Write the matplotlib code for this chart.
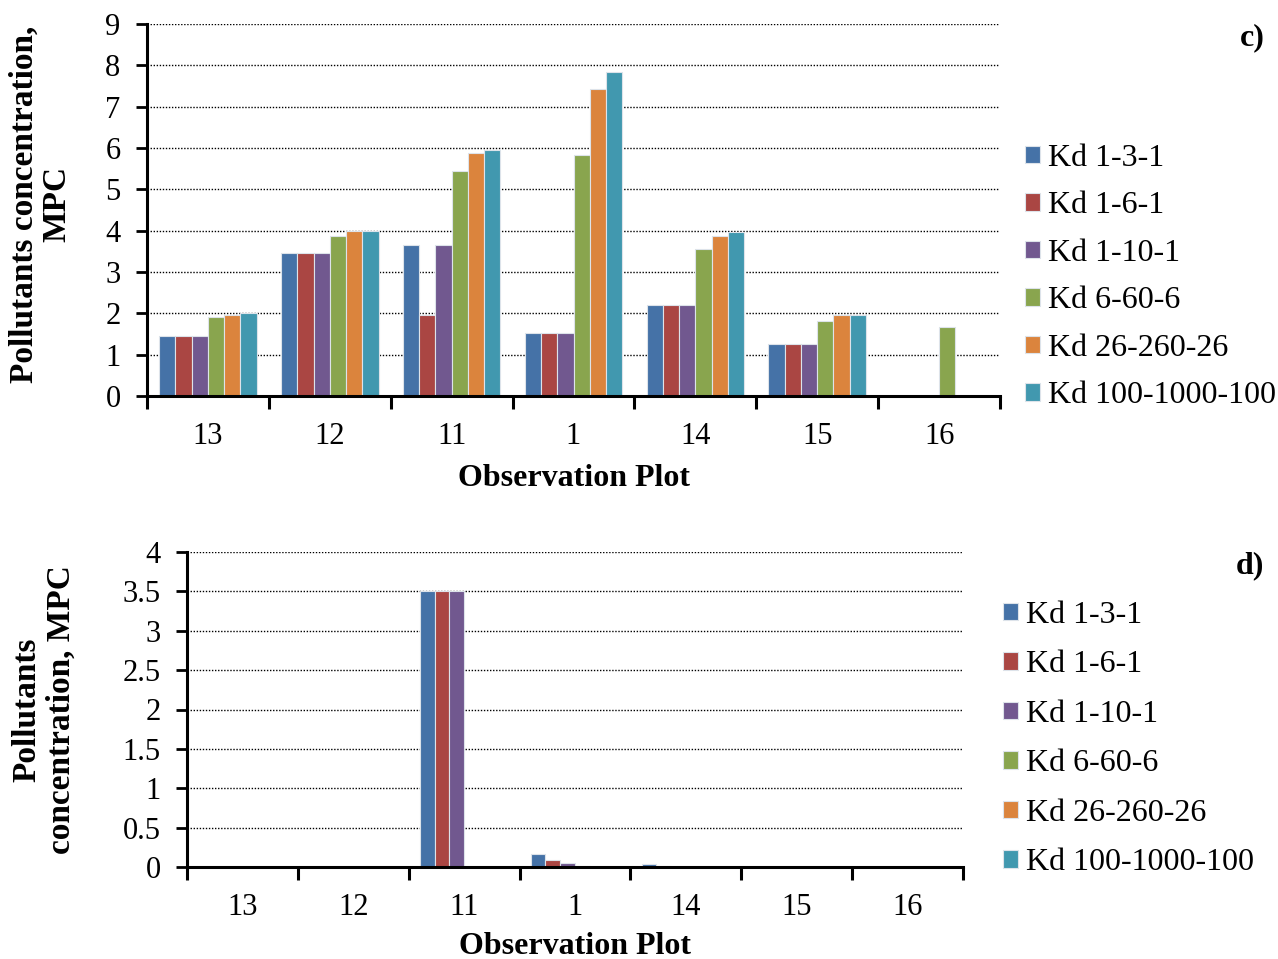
import numpy as np
import matplotlib
matplotlib.use("Agg")
import matplotlib.pyplot as plt
from matplotlib.ticker import FormatStrFormatter, FixedLocator

plt.rcParams['font.family'] = ['Liberation Serif', 'DejaVu Serif']

plots = ['13', '12', '11', '1', '14', '15', '16']
series = ['Kd 1-3-1', 'Kd 1-6-1', 'Kd 1-10-1', 'Kd 6-60-6', 'Kd 26-260-26', 'Kd 100-1000-100']
colors = ['#4572A7', '#AA4643', '#71588F', '#89A54E', '#DB843D', '#4198AF']

# panel c) concentration per plot, one list per Kd set
c_kd_1_3_1 = [1.46, 3.47, 3.65, 1.52, 2.21, 1.26, 0.0]
c_kd_1_6_1 = [1.46, 3.47, 1.95, 1.52, 2.21, 1.26, 0.0]
c_kd_1_10_1 = [1.46, 3.47, 3.65, 1.52, 2.21, 1.26, 0.0]
c_kd_6_60_6 = [1.92, 3.87, 5.44, 5.83, 3.55, 1.82, 1.66]
c_kd_26_260_26 = [1.97, 3.98, 5.87, 7.43, 3.88, 1.95, 0.0]
c_kd_100_1000_100 = [2.0, 3.98, 5.96, 7.84, 3.96, 1.96, 0.0]

# panel d)
d_kd_1_3_1 = [0.0, 0.0, 3.5, 0.17, 0.04, 0.0, 0.0]
d_kd_1_6_1 = [0.0, 0.0, 3.5, 0.095, 0.01, 0.0, 0.0]
d_kd_1_10_1 = [0.0, 0.0, 3.5, 0.05, 0.0, 0.0, 0.0]
d_kd_6_60_6 = [0.0, 0.0, 0.0, 0.01, 0.0, 0.0, 0.0]
d_kd_26_260_26 = [0.0, 0.0, 0.0, 0.0, 0.0, 0.0, 0.0]
d_kd_100_1000_100 = [0.0, 0.0, 0.0, 0.0, 0.0, 0.0, 0.0]

c_data = [c_kd_1_3_1, c_kd_1_6_1, c_kd_1_10_1, c_kd_6_60_6, c_kd_26_260_26, c_kd_100_1000_100]
d_data = [d_kd_1_3_1, d_kd_1_6_1, d_kd_1_10_1, d_kd_6_60_6, d_kd_26_260_26, d_kd_100_1000_100]

TICK_FS = 22
LABEL_FS = 23

fig = plt.figure(figsize=(12.78, 9.59), dpi=100)
ax_c = fig.add_axes([147/1278, 1 - 396/959, 853/1278, 372/959])
ax_d = fig.add_axes([187/1278, 1 - 867/959, 776/1278, 315/959])


def draw_panel(ax, data, ymax, ystep, xlabelpad):
    x = np.arange(len(plots))
    w = 0.8 / len(series)
    for i, vals in enumerate(data):
        ax.bar(x - 0.4 + w * (i + 0.5), vals, width=w, color=colors[i],
               edgecolor='#dde3ea', linewidth=0.8, label=series[i], zorder=2)
    ax.set_xlim(-0.5, len(plots) - 0.5)
    ax.set_ylim(0, ymax)
    ax.set_yticks(np.arange(0, ymax + ystep / 2, ystep))
    ax.yaxis.set_major_formatter(FormatStrFormatter('%g'))
    # ticks sit on group boundaries, labels at group centres
    ax.xaxis.set_major_locator(FixedLocator(np.arange(len(plots) + 1) - 0.5))
    ax.xaxis.set_minor_locator(FixedLocator(x))
    ax.set_xticklabels([], minor=False)
    ax.set_xticklabels(plots, minor=True)
    ax.tick_params(axis='x', which='major', direction='out', length=9, width=2.2)
    ax.tick_params(axis='x', which='minor', length=0, pad=19, labelsize=TICK_FS)
    ax.tick_params(axis='y', direction='out', length=8, width=2, labelsize=TICK_FS, pad=11)
    for s in ['top', 'right']:
        ax.spines[s].set_visible(False)
    for s in ['left', 'bottom']:
        ax.spines[s].set_linewidth(2.2)
    ax.set_axisbelow(True)
    ax.yaxis.grid(True, linestyle=(0, (1, 1.2)), color='black', linewidth=1.0)
    ax.set_xlabel('Observation Plot', fontsize=LABEL_FS, fontweight='bold', labelpad=xlabelpad)


draw_panel(ax_c, c_data, 9, 1, 9)
draw_panel(ax_d, d_data, 4, 0.5, 7)

ax_c.set_ylabel('Pollutants concentration,\nMPC', fontsize=24, fontweight='bold',
                linespacing=1.05)
ax_d.set_ylabel('Pollutants\nconcentration, MPC', fontsize=24, fontweight='bold',
                linespacing=1.15)
ax_c.yaxis.set_label_coords(-0.088, 0.515)
ax_d.yaxis.set_label_coords(-0.142, 0.5)

leg_kw = dict(loc='center left', frameon=False, fontsize=LABEL_FS, handlelength=0.47,
              handleheight=0.47, handletextpad=0.25, borderaxespad=0, borderpad=0)
ax_c.legend(bbox_to_anchor=(1025/1278, 1 - 277/959), bbox_transform=fig.transFigure,
            labelspacing=0.58, **leg_kw)
ax_d.legend(bbox_to_anchor=(1003/1278, 1 - 739/959), bbox_transform=fig.transFigure,
            labelspacing=0.64, **leg_kw)

fig.text(1252/1278, 1 - 38/959, 'c)', fontsize=LABEL_FS, fontweight='bold', ha='center', va='center')
fig.text(1250/1278, 1 - 566/959, 'd)', fontsize=LABEL_FS, fontweight='bold', ha='center', va='center')

fig.savefig('out.png', dpi=100)
